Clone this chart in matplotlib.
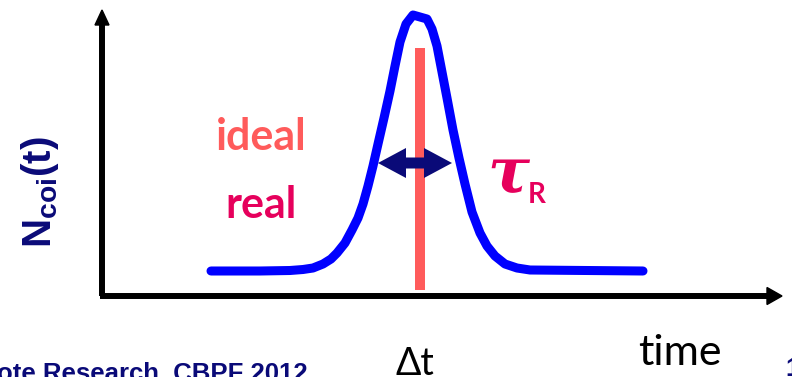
import matplotlib
matplotlib.use("Agg")
import matplotlib.pyplot as plt
from matplotlib.patches import FancyArrow

plt.rcParams['mathtext.fontset'] = 'custom'
plt.rcParams['mathtext.bf'] = 'Liberation Sans:bold'
plt.rcParams['mathtext.rm'] = 'Liberation Sans:bold'
plt.rcParams['mathtext.it'] = 'Liberation Sans:bold'

# --- data (time units along the x axis, counts along the y axis) ---
real_t = [110, 159, 189, 202, 212, 222, 230, 236, 244, 251, 257, 262, 267, 272, 277, 283, 289, 294,
          299, 305, 312, 326, 331, 336, 341, 346, 352, 358, 364, 371, 379, 386, 394, 404, 416, 429, 542]
real_n = [25, 25, 25.5, 26.5, 28, 32, 37, 43, 53, 66, 78, 92, 110, 130, 152, 178, 205, 230,
          254, 272, 281, 277, 267, 250, 224, 198, 166, 138, 112, 84, 63, 50, 40, 32, 28, 26, 25]
delta_t = 319
ideal_n = [6, 248]
tau_left, tau_right, tau_level = 277, 351, 133

BLUE = '#0000FF'
SALMON = '#FF5B5B'
CRIMSON = '#E6005C'
NAVY = '#0A0A78'

fig = plt.figure(figsize=(7.92, 3.77), dpi=100)
ax = fig.add_axes([0, 0, 1, 1])
ax.set_xlim(-101, 691)
ax.set_ylim(-81, 296)
ax.axis('off')

# axes with arrows
ax.plot([1, 1], [0, 272], color='black', lw=4.3, solid_capstyle='butt', zorder=2)
ax.fill([-6, 1, 8], [271, 286, 271], color='black', zorder=2)
ax.plot([-1.5, 667], [0, 0], color='black', lw=4.3, solid_capstyle='butt', zorder=2)
ax.fill([666, 681, 666], [8.5, 0, -8.5], color='black', zorder=2)

# real curve
ax.plot(real_t, real_n, color=BLUE, lw=6.5, solid_capstyle='round',
        solid_joinstyle='round', zorder=3)

# ideal line
ax.plot([delta_t, delta_t], ideal_n, color=SALMON, lw=7.2,
        solid_capstyle='butt', zorder=4)

# tau_R double arrow (two halves from the centre)
mid = (tau_left + tau_right) / 2
for end in (tau_left, tau_right):
    ax.add_patch(FancyArrow(mid, tau_level, end - mid, 0, width=11, head_width=30,
                            head_length=28, length_includes_head=True,
                            color=NAVY, lw=0, zorder=5))

# texts
ax.text(160, 146, 'ideal', color=SALMON, fontsize=31, fontfamily='Lato',
        fontweight='bold', ha='center', va='baseline')
ax.text(160.5, 78, 'real', color=CRIMSON, fontsize=31, fontfamily='Lato',
        fontweight='bold', ha='center', va='baseline')
ax.text(386, 104, 'τ', color=CRIMSON, fontsize=45, fontfamily='DejaVu Serif',
        fontweight='bold', fontstyle='italic', ha='left', va='baseline')
ax.text(427, 93, 'R', color=CRIMSON, fontsize=20, fontfamily='Lato',
        fontweight='bold', ha='left', va='baseline')
ax.text(579, -69, 'time', color='black', fontsize=31, fontfamily='Lato',
        ha='center', va='baseline')
ax.text(314, -79, 'Δt', color='black', fontsize=27,
        fontfamily=['Lato', 'Open Sans', 'DejaVu Sans'], ha='center', va='baseline')
ax.text(-61, 104, r'$\mathbf{N_{coi}(t)}$', color=NAVY, fontsize=29,
        rotation=90, ha='center', va='center')
ax.text(-104, -66, 'ote Research, CBPF 2012', color=NAVY, fontsize=18.5,
        fontfamily='Liberation Sans', fontweight='bold', ha='left', va='top')
ax.text(684, -61, '1', color=NAVY, fontsize=18, fontfamily='Liberation Sans',
        fontweight='bold', ha='left', va='top')

fig.savefig('out.png', dpi=100)
